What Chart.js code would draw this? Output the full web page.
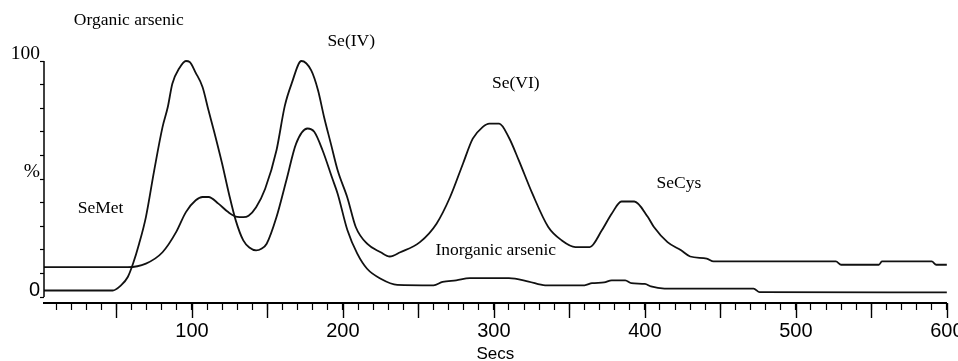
<!DOCTYPE html>
<html>
<head>
<meta charset="utf-8">
<script src="https://cdn.jsdelivr.net/npm/chart.js@4/dist/chart.umd.min.js"></script>
<style>
  html, body { margin: 0; padding: 0; background: #fff; overflow: hidden; }
  #wrap { width: 975px; height: 361px; }
</style>
</head>
<body>
<div id="wrap"><canvas id="chromatogram" width="975" height="361"></canvas></div>
<script>
// trace that starts low: organic arsenic peak, then falls to the inorganic arsenic baseline
const timesA = [2, 47.5, 53, 57.5, 61, 65, 69.5, 75, 80.5, 84, 87, 91.5, 96, 98.5, 102.5, 107, 111, 114.5, 120, 124.5,
  129, 134, 138, 142.5, 146, 149.5, 156, 162.5, 169, 176.5, 181, 186.5, 193, 196.5, 203, 209.5, 216, 225, 236, 260,
  266, 275, 284, 310, 323, 334, 360, 365, 373, 378, 387, 391, 400, 404, 413, 472, 476, 600];
const valuesA = [2.8, 2.8, 5, 8.5, 14.2, 22.6, 33.9, 53.7, 72, 80.5, 90.4, 96.8, 100, 99.6, 95, 89, 79, 70.6, 56.5, 43.8,
  32.5, 24, 21, 19.8, 20.5, 22.6, 33.9, 49.4, 65, 71.4, 70, 62.2, 50.2, 43.8, 28.3, 18.4, 12, 7.8, 5.2, 5,
  6.4, 7.1, 8, 8, 6.6, 5, 5, 5.9, 6.2, 7.1, 7.1, 5.9, 5.6, 4.5, 3.6, 3.6, 2.1, 2];

// trace on the raised baseline: SeMet shoulder, Se(IV), Se(VI), SeCys
const timesB = [2, 57.5, 69.5, 80.5, 89.5, 96, 102.5, 107, 111, 117.5, 124, 130, 134, 137.5, 142.5, 148.5, 156, 161.5,
  166, 172.5, 179, 183.5, 187.5, 192, 196.5, 203, 208.5, 216, 225, 231, 238, 251, 262, 271, 279.5, 286, 292.5, 297,
  303.5, 310, 316.5, 325.5, 336, 345, 354, 363.5, 371.5, 378, 384.5, 393, 402, 406, 415, 424, 430, 441, 445.5,
  526.5, 530, 555, 557, 590, 593, 600];
const valuesB = [12.7, 12.7, 14.2, 19, 27.5, 36, 41, 42.4, 42.4, 39.6, 36, 34, 33.9, 34.5, 38.1, 45.9, 62.2, 81,
  90.4, 100, 96, 87.6, 76.3, 65, 53.7, 42, 29.7, 22.6, 19, 17.2, 19, 23.3, 31.1, 42.4, 56.5, 67.1, 72, 73.5,
  73.5, 67.5, 57.9, 43.8, 29.7, 24, 21.2, 21.2, 28.3, 35.3, 40.5, 40.5, 33.9, 29.7, 23.3, 19.8, 17.2, 16.3, 15.1,
  15.1, 13.7, 13.7, 15.1, 15.1, 13.7, 13.7];

const xLabelValues = [100, 200, 300, 400, 500, 600];
const xMajorTicks = [50, 100, 150, 200, 250, 300, 350, 400, 450, 500, 550, 600];
const xTickValues = Array.from({ length: 60 }, (_, i) => (i + 1) * 10);
const yTickValues = [0, 10, 20, 30, 40, 50, 60, 70, 80, 90, 100];
const yLabelValues = [0, 50, 100];
const yLabelTexts = ['0', '%', '100'];

const peakNames = ['Organic arsenic', 'Se(IV)', 'Se(VI)', 'SeMet', 'Inorganic arsenic', 'SeCys'];
const peakNameSecs = [21.7, 189.7, 298.7, 24.3, 261.3, 407.7];
const peakNamePct = [117, 108.5, 90.7, 37.7, 19.7, 48.1];

const toPoints = (xs, ys) => xs.map((x, i) => ({ x: x, y: ys[i] }));

// y axis only runs 0..100, long ticks every 50 s, peak names
const axisExtras = {
    id: 'axisExtras',
    afterDraw(chart) {
        const { ctx, chartArea, scales } = chart;
        const x = scales.x, y = scales.y;
        ctx.save();
        ctx.strokeStyle = '#000';
        ctx.lineWidth = 1.5;
        ctx.beginPath();
        ctx.moveTo(chartArea.left, y.getPixelForValue(0));
        ctx.lineTo(chartArea.left, y.getPixelForValue(100));
        ctx.stroke();

        ctx.lineWidth = 1.4;
        xMajorTicks.forEach(v => {
            const px = Math.round(x.getPixelForValue(v)) + 0.5;
            ctx.beginPath();
            ctx.moveTo(px, chartArea.bottom);
            ctx.lineTo(px, chartArea.bottom + 15);
            ctx.stroke();
        });

        ctx.fillStyle = '#000';
        ctx.font = '17.5px "Liberation Serif"';
        ctx.textAlign = 'left';
        ctx.textBaseline = 'middle';
        peakNames.forEach((name, i) => {
            ctx.fillText(name, x.getPixelForValue(peakNameSecs[i]), y.getPixelForValue(peakNamePct[i]));
        });
        ctx.restore();
    }
};

const lineStyle = {
    borderColor: '#111',
    borderWidth: 1.8,
    pointRadius: 0,
    fill: false,
    cubicInterpolationMode: 'monotone',
    clip: false
};

new Chart(document.getElementById('chromatogram'), {
    type: 'line',
    data: {
        datasets: [
            Object.assign({ data: toPoints(timesA, valuesA) }, lineStyle),
            Object.assign({ data: toPoints(timesB, valuesB) }, lineStyle)
        ]
    },
    options: {
        responsive: false,
        animation: false,
        devicePixelRatio: 1,
        layout: { padding: { left: 10, right: 20, top: 61, bottom: 0 } },
        plugins: { legend: { display: false }, tooltip: { enabled: false } },
        scales: {
            x: {
                type: 'linear',
                bounds: 'data',
                min: 2,
                max: 600,
                afterBuildTicks: s => { s.ticks = xTickValues.map(v => ({ value: v })); },
                afterFit: s => { s.height = 58; },
                grid: { drawOnChartArea: false, tickLength: 7, tickColor: '#000', tickWidth: 1.2 },
                border: { color: '#000', width: 2 },
                ticks: {
                    autoSkip: false,
                    maxRotation: 0,
                    padding: 11.5,
                    color: '#000',
                    font: { family: 'Liberation Sans', size: 20, lineHeight: 1 },
                    callback: v => xLabelValues.includes(v) ? String(v) : ''
                },
                title: {
                    display: true,
                    text: 'Secs',
                    color: '#000',
                    padding: 0,
                    font: { family: 'Liberation Sans', size: 17, lineHeight: 0.8 }
                }
            },
            y: {
                type: 'linear',
                bounds: 'data',
                min: -2.5,
                max: 100,
                afterBuildTicks: s => { s.ticks = yTickValues.map(v => ({ value: v })); },
                afterFit: s => { s.width = 34; },
                grid: { drawOnChartArea: false, tickLength: 4, tickColor: '#000', tickWidth: 1.2 },
                border: { display: false },
                ticks: {
                    autoSkip: false,
                    padding: 0,
                    labelOffset: -7,
                    color: '#000',
                    font: c => (c.tick && c.tick.value === 0)
                        ? { family: 'Liberation Sans', size: 20 }
                        : { family: 'Liberation Serif', size: 19.5 },
                    callback: v => {
                        const i = yLabelValues.indexOf(v);
                        return i < 0 ? '' : yLabelTexts[i];
                    }
                }
            }
        }
    },
    plugins: [axisExtras]
});
</script>
</body>
</html>
